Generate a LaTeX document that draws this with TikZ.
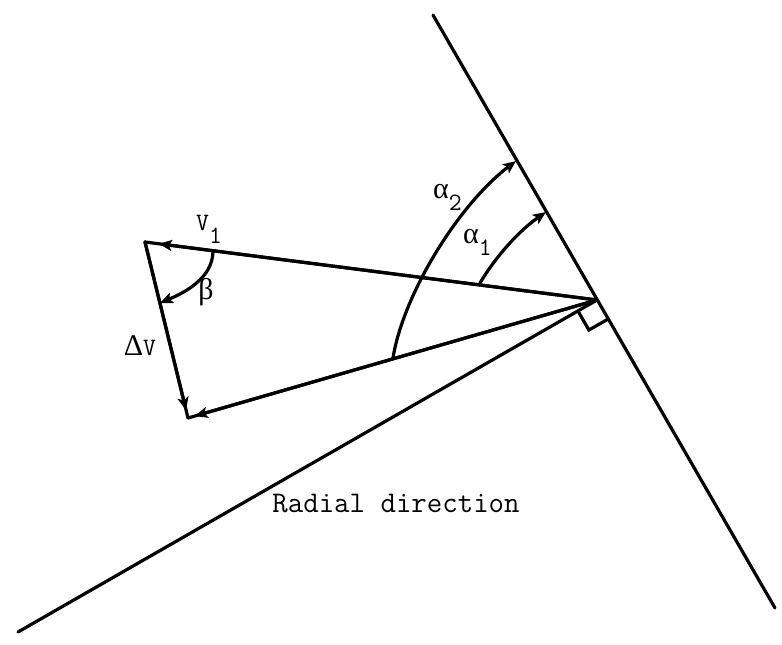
\documentclass[tikz,border=0pt]{standalone}
\usepackage{fontspec}
\newfontfamily\gr{Liberation Serif}[Scale=1.2]
\usetikzlibrary{arrows.meta}
\begin{document}
\begin{tikzpicture}[x=1pt,y=-1pt,
  ln/.style={line width=3.2pt, line cap=round},
  arr/.style={ln, -{Stealth[length=13pt,width=11pt,inset=3pt]}},
  lbl/.style={font=\ttfamily\fontsize{25}{30}\selectfont, inner sep=0pt}]
\useasboundingbox (0,0) rectangle (782,645);
% key points
\coordinate (T1) at (433,15);
\coordinate (T2) at (775,608);
\coordinate (P) at (597,300);
\coordinate (R) at (18,632);
\coordinate (A) at (145,242);
\coordinate (B) at (188,418);
% tangent and radial lines
\draw[ln] (T1) -- (T2);
\draw[ln] (R) -- (P);
% right-angle mark
\coordinate (Q1) at (577.9,310.9);
\coordinate (Q2) at (588.9,330.0);
\coordinate (Q3) at (608.0,319.1);
\draw[ln, line cap=butt, line join=miter] (Q1) -- (Q2) -- (Q3);
% vector triangle
\draw[ln] (P) -- (A);
\draw[arr, shorten >=14pt] (P) -- (A);
\draw[ln] (A) -- (B);
\draw[arr, shorten >=8pt] (A) -- (B);
\draw[ln] (P) -- (B);
\draw[arr, shorten >=7pt] (P) -- (B);
% angle arcs
\coordinate (b1) at (213,252);
\coordinate (b2) at (160,303);
\draw[arr] (b1) .. controls (212,278) and (186,292) .. (b2);
\coordinate (a1s) at (480,283);
\coordinate (a1e) at (546,212);
\draw[arr] (a1s) .. controls (496,256) and (520,230) .. (a1e);
\coordinate (a2s) at (393,358);
\coordinate (a2e) at (516,161);
\draw[arr] (a2s) .. controls (403,295) and (458,205) .. (a2e);
% labels
\node[lbl, anchor=base west] (lV) at (196,230) {V\raisebox{-13pt}{1}};
\node[lbl] (lbeta) at (206,292) {{\gr β}};
\node[lbl] (ldV) at (140,346) {{\gr Δ}V};
\node[lbl, anchor=base west] (la2) at (433,198) {{\gr α}\raisebox{-12pt}{2}};
\node[lbl, anchor=base west] (la1) at (463,243) {{\gr α}\raisebox{-12pt}{1}};
\node[lbl, font=\ttfamily\fontsize{30}{36}\selectfont, anchor=base] (lrad) at (396,512) {Radial direction};
\end{tikzpicture}
\end{document}
